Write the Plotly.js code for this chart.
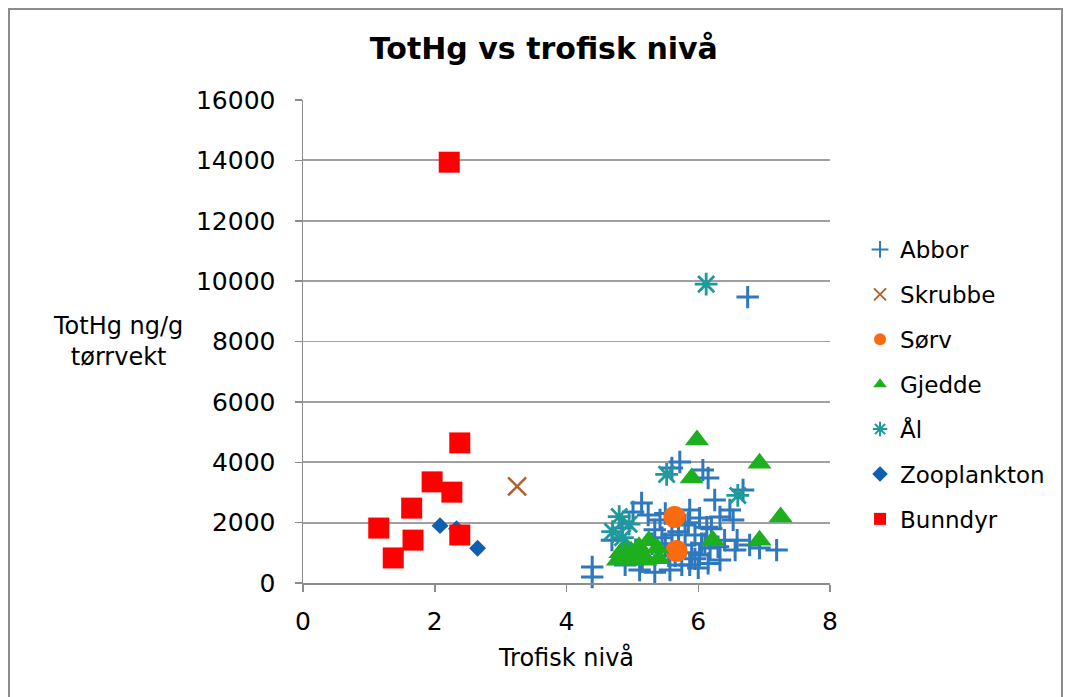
<!DOCTYPE html>
<html>
<head>
<meta charset="utf-8">
<script src="https://cdn.plot.ly/plotly-3.0.1.min.js"></script>
<style>
html,body{margin:0;padding:0;background:#fff;}
#chart{width:1065px;height:697px;}
#frame{position:absolute;left:8px;top:8px;width:1055px;height:700px;border:2px solid #8c8c8c;box-sizing:border-box;pointer-events:none;}
</style>
</head>
<body>
<div id="chart"></div>
<div id="frame"></div>
<script>
// ---- data ----
const seriesNames = ["Abbor","Skrubbe","Sørv","Gjedde","Ål","Zooplankton","Bunndyr"];

const abborX = [6.75,4.39,4.39,5.60,5.72,6.07,6.15,5.14,5.01,5.24,6.68,6.48,6.53,6.59,6.56,7.19,6.02,6.13,6.33,5.87,5.95,5.80,6.02,6.18,5.87,5.57,5.34,5.11,4.89,5.42,5.34,6.33,6.40,6.78,6.93,4.84,4.69,5.80,6.25,5.50,5.70,6.10,5.95,5.65,5.45,5.55,5.75,5.90,6.05,6.20,5.60,5.30,5.15,5.05,6.00,6.30,5.85,5.50,6.15];
const abborY = [9470,530,200,3810,4010,3740,3480,2650,2350,2250,3080,2420,2090,1420,1090,1090,2150,1850,2190,2420,1590,1260,930,1160,600,430,360,430,600,2090,1760,760,1420,1260,1160,1820,1420,1920,2750,1300,1700,1300,800,900,1500,900,600,1000,1300,1800,1600,1300,700,1100,500,1200,2000,2300,650];

const skrubbeX = [3.25];
const skrubbeY = [3200];

const sorvX = [5.64,5.67];
const sorvY = [2190,1060];

const gjeddeX = [5.98,5.90,6.93,7.25,6.93,6.22,4.78,4.88,4.98,5.10,5.25,5.38,5.40,5.20,5.00,4.90,5.15,4.82];
const gjeddeY = [4740,3480,3970,2190,1420,1420,750,900,1050,1200,1400,1150,800,750,750,1200,950,1000];

const alX = [6.12,6.60,4.80,4.95,4.70,5.52,4.85];
const alY = [9900,2900,2200,1950,1700,3600,1500];

const zooX = [2.08,2.33,2.65];
const zooY = [1900,1800,1150];

const bunnX = [2.22,2.38,1.96,2.26,1.65,1.15,1.67,1.37,2.38];
const bunnY = [13940,4640,3350,3010,2480,1820,1420,830,1590];

const xTicks = [0,2,4,6,8];
const yTicks = [0,2000,4000,6000,8000,10000,12000,14000,16000];

// ---- styles ----
const FONT = "DejaVu Sans, Verdana, sans-serif";
function tr(name, x, y, marker, group){
  return {type:"scatter", mode:"markers", name:name, x:x, y:y, marker:marker,
          legendgroup:group, cliponaxis:false};
}
const traces = [
  tr(seriesNames[0], abborX, abborY, {symbol:"cross-thin-open", size:16, color:"#2F78BE", line:{color:"#2F78BE", width:3}}, "g1"),
  tr(seriesNames[1], skrubbeX, skrubbeY, {symbol:"x-thin-open", size:18, color:"#B4602A", line:{color:"#B4602A", width:2.5}}, "g2"),
  tr(seriesNames[2], sorvX, sorvY, {symbol:"circle", size:22, color:"#FA6A0F"}, "g3"),
  tr(seriesNames[3], gjeddeX, gjeddeY, {symbol:"triangle-up", size:21, color:"#1DAF1D"}, "g4"),
  tr(seriesNames[4], alX, alY, {symbol:"asterisk-open", size:19, color:"#1F9A9A", line:{color:"#1F9A9A", width:2.8}}, "g5"),
  tr(seriesNames[5], zooX, zooY, {symbol:"diamond", size:13, color:"#0F5FAE"}, "g6"),
  tr(seriesNames[6], bunnX, bunnY, {symbol:"square", size:21, color:"#FF0000"}, "g7")
];

const layout = {
  width:1065, height:697,
  paper_bgcolor:"#ffffff", plot_bgcolor:"#ffffff",
  margin:{l:303, r:235, t:100, b:114, pad:0, autoexpand:false},
  font:{family:FONT, color:"#000", size:22},
  title:{text:"<b>TotHg vs trofisk nivå</b>", font:{family:FONT, size:30, color:"#000"},
         x:0.457, xref:"paper", xanchor:"center", y:0.93, yref:"container", yanchor:"middle"},
  showlegend:true,
  legend:{x:1.057, xanchor:"left", y:0.735, yanchor:"top", font:{family:FONT, size:23, color:"#000"},
          traceorder:"grouped", tracegroupgap:12, itemwidth:30, itemsizing:"constant", bgcolor:"rgba(0,0,0,0)"},
  xaxis:{range:[0,8], tickvals:xTicks, ticktext:xTicks.map(String), showgrid:false, zeroline:false,
         showline:true, linecolor:"#8c8c8c", linewidth:1.5, ticks:"outside", ticklen:7, tickcolor:"#8c8c8c",
         tickwidth:1.5, tickfont:{family:FONT, size:25, color:"#000"}, ticklabelstandoff:8, automargin:false,
         title:{text:"Trofisk nivå", font:{family:FONT, size:24, color:"#000"}, standoff:14}},
  yaxis:{range:[0,16000], tickvals:yTicks, ticktext:yTicks.map(String), showgrid:true, gridcolor:"#a0a0a0",
         gridwidth:1.8, zeroline:false, showline:true, linecolor:"#8c8c8c", linewidth:1.5, ticks:"outside",
         ticklen:7, tickcolor:"#8c8c8c", tickwidth:1.5, tickfont:{family:FONT, size:25, color:"#000"},
         ticklabelstandoff:14, automargin:false},
  annotations:[{text:"TotHg ng/g<br>tørrvekt", xref:"paper", yref:"paper", x:-0.351, y:0.5,
                xanchor:"center", yanchor:"middle", showarrow:false, align:"center",
                font:{family:FONT, size:24, color:"#000"}}]
};

Plotly.newPlot("chart", traces, layout, {displayModeBar:false, staticPlot:true});
</script>
</body>
</html>
